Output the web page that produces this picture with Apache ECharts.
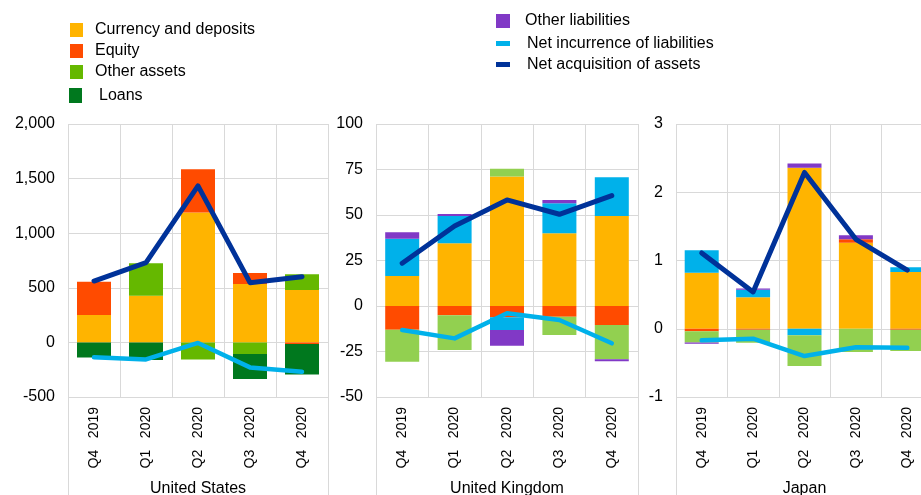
<!DOCTYPE html>
<html><head><meta charset="utf-8">
<script src="https://cdn.jsdelivr.net/npm/echarts@6/dist/echarts.min.js"></script>
<style>html,body{margin:0;padding:0;background:#fff}#c{width:921px;height:495px}</style>
</head><body><div id="c"></div>
<script>
const categories = ['Q4 2019', 'Q1 2020', 'Q2 2020', 'Q3 2020', 'Q4 2020'];
const countries = ['United States', 'United Kingdom', 'Japan'];

// United States (EUR billions)
const usCurrency = [250, 428, 1189, 535, 480];
const usEquity = [305, 0, 397, 101, -15];
const usDebt = [0, 0, 0, 0, 0];
const usOther = [0, 296, -156, -107, 143];
const usLoans = [-138, -162, 0, -229, -278];
const usOtherLiab = [0, 0, 0, 0, 0];
const usNetAcq = [562, 730, 1433, 547, 602];
const usNetInc = [-137, -156, -5, -229, -269];

// United Kingdom
const ukCurrency = [16.5, 34.5, 71.2, 40, 49.5];
const ukEquity = [-13, -5.1, -6.2, -5.9, -10.5];
const ukDebt = [20.4, 15, -7, 16.5, 21.3];
const ukOther = [-17.6, -19.1, 4.2, -10, -18.8];
const ukLoans = [0, 0, 0, 0, 0];
const ukOtherLiab = [3.6, 1, -8.6, 1.8, -1];
const ukNetAcq = [23.5, 44, 58.3, 50.4, 60.7];
const ukNetInc = [-13.2, -17.8, -4.0, -7.7, -20.5];

// Japan
const jpCurrency = [0.82, 0.46, 2.36, 1.26, 0.83];
const jpEquity = [-0.037, -0.015, 0, 0.05, -0.015];
const jpDebt = [0.33, 0.11, -0.095, 0, 0.07];
const jpOther = [-0.166, -0.19, -0.45, -0.34, -0.31];
const jpLoans = [0, 0, 0, 0, 0];
const jpOtherLiab = [-0.015, 0.02, 0.06, 0.06, 0];
const jpNetAcq = [1.11, 0.54, 2.29, 1.31, 0.86];
const jpNetInc = [-0.17, -0.145, -0.40, -0.27, -0.28];

// axis ticks per panel
const yMins = [-500, -50, -1];
const yMaxs = [2000, 100, 3];
const yIntervals = [500, 25, 1];

const FONT = 'Liberation Sans, Arial, sans-serif';
const C = {
  currency: '#FFB400', equity: '#FF4B00', debt: '#00B1EA', otherDark: '#65B800',
  otherLight: '#92D050', loans: '#00781E', otherLiab: '#8139C6',
  netAcq: '#003299', netInc: '#00B1EA'
};
const gridBox = [
  {left: 68, top: 124, width: 260, height: 273},
  {left: 376, top: 124, width: 262, height: 273},
  {left: 676, top: 124, width: 257, height: 273}
];
const panels = [
  {cur: usCurrency, eq: usEquity, debt: usDebt, oth: usOther, loans: usLoans, ol: usOtherLiab, acq: usNetAcq, inc: usNetInc, otherColor: C.otherDark},
  {cur: ukCurrency, eq: ukEquity, debt: ukDebt, oth: ukOther, loans: ukLoans, ol: ukOtherLiab, acq: ukNetAcq, inc: ukNetInc, otherColor: C.otherLight},
  {cur: jpCurrency, eq: jpEquity, debt: jpDebt, oth: jpOther, loans: jpLoans, ol: jpOtherLiab, acq: jpNetAcq, inc: jpNetInc, otherColor: C.otherLight}
];

const GRID_COLOR = '#D9D9D9';
const grid = [], xAxis = [], yAxis = [], series = [], graphic = [];
panels.forEach((p, i) => {
  const g = gridBox[i];
  grid.push({left: g.left, top: g.top, width: g.width, height: g.height, containLabel: false, outerBoundsMode: 'none'});
  xAxis.push({
    type: 'category', gridIndex: i, data: categories, position: 'bottom',
    axisLine: {show: false, onZero: false}, axisTick: {show: false},
    splitLine: {show: true, lineStyle: {color: GRID_COLOR, width: 1}},
    axisLabel: {rotate: 90, margin: 10, fontSize: 14, color: '#000', fontFamily: FONT,
      formatter: v => v.replace(' ', '   ')},
    name: countries[i], nameLocation: 'middle', nameGap: 84,
    nameTextStyle: {fontSize: 16, color: '#000', fontFamily: FONT}
  });
  yAxis.push({
    type: 'value', gridIndex: i, min: yMins[i], max: yMaxs[i], interval: yIntervals[i],
    axisLine: {show: false}, axisTick: {show: false},
    splitLine: {show: true, lineStyle: {color: GRID_COLOR, width: 1}},
    axisLabel: {margin: 13, fontSize: 16, color: '#000', fontFamily: FONT,
      formatter: v => v.toLocaleString('en-US')}
  });
  const bar = (name, data, color) => ({
    name, type: 'bar', xAxisIndex: i, yAxisIndex: i, stack: 'p' + i, data,
    barWidth: 34, itemStyle: {color}, color, emphasis: {disabled: true}, z: 2
  });
  series.push(bar('Currency and deposits', p.cur, C.currency));
  series.push(bar('Equity', p.eq, C.equity));
  series.push(bar('Debt securities', p.debt, C.debt));
  series.push(bar('Other assets', p.oth, p.otherColor));
  series.push(bar('Loans', p.loans, C.loans));
  series.push(bar('Other liabilities', p.ol, C.otherLiab));
  const line = (name, data, color, w) => ({
    name, type: 'line', xAxisIndex: i, yAxisIndex: i, data, color,
    showSymbol: false, symbol: 'none', z: 5,
    lineStyle: {color, width: w, cap: 'round', join: 'round'}, emphasis: {disabled: true}
  });
  series.push(line('Net incurrence of liabilities', p.inc, C.netInc, 4.5));
  series.push(line('Net acquisition of assets', p.acq, C.netAcq, 5));
  // panel side borders extending through the label area
  [g.left, g.left + g.width].forEach(x => {
    graphic.push({type: 'line', silent: true, z: 0,
      shape: {x1: x + 0.5, y1: g.top + g.height, x2: x + 0.5, y2: 495},
      style: {stroke: GRID_COLOR, lineWidth: 1}});
  });
});

function leg(name, color, left, cy, w, h, pad) {
  return {
    data: [{name, icon: 'rect', itemStyle: {color}}], left, top: cy - 8,
    itemWidth: w, itemHeight: h, padding: 0, selectedMode: false,
    textStyle: {fontSize: 16, lineHeight: 16, color: '#000', fontFamily: FONT, padding: [0, 0, 0, pad]}
  };
}
const legend = [
  leg('Currency and deposits', C.currency, 70, 30, 13, 14, 7),
  leg('Equity', C.equity, 70, 51, 13, 14, 7),
  leg('Other assets', C.otherDark, 70, 72, 13, 14, 7),
  leg('Loans', C.loans, 69, 95.5, 13, 15, 12),
  leg('Other liabilities', C.otherLiab, 496, 21, 14, 14, 10),
  leg('Net incurrence of liabilities', C.netInc, 496, 43.5, 14, 5, 12),
  leg('Net acquisition of assets', C.netAcq, 496, 64.5, 14, 5, 12)
];

const chart = echarts.init(document.getElementById('c'), null, {renderer: 'canvas'});
chart.setOption({
  backgroundColor: '#fff', animation: false,
  grid, xAxis, yAxis, series, legend, graphic
});
</script></body></html>
